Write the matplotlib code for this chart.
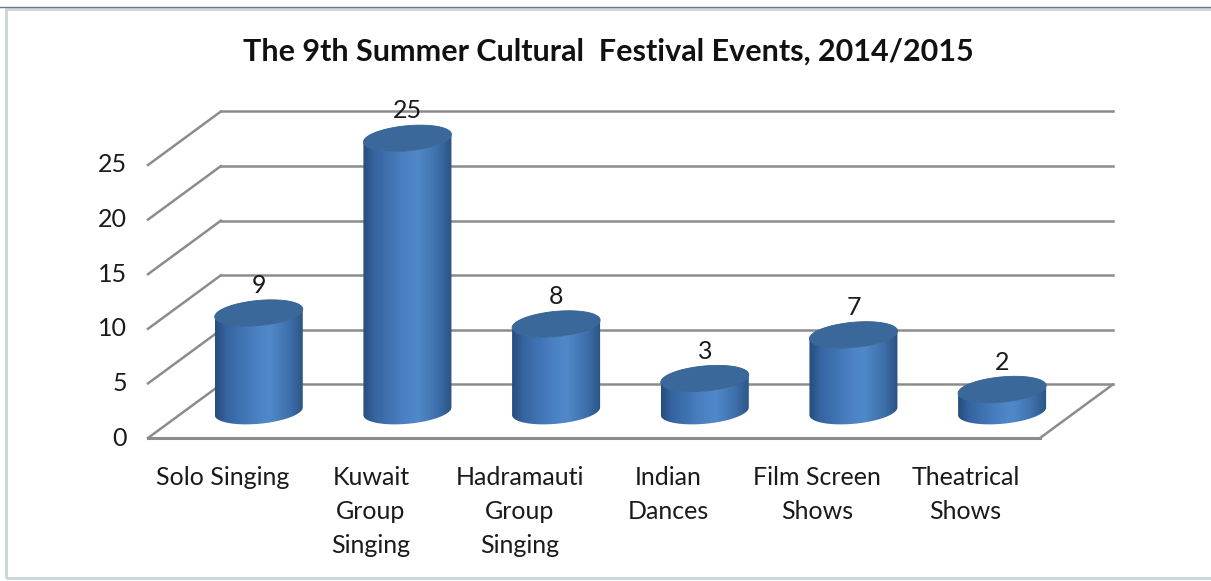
import numpy as np
import matplotlib
matplotlib.use('Agg')
import matplotlib.pyplot as plt
from matplotlib.patches import Polygon, Rectangle
from matplotlib.colors import LinearSegmentedColormap
from matplotlib.lines import Line2D

plt.rcParams['font.family'] = ['Lato', 'DejaVu Sans']

title = 'The 9th Summer Cultural  Festival Events, 2014/2015'
categories = ['Solo Singing', 'Kuwait\nGroup\nSinging', 'Hadramauti\nGroup\nSinging',
              'Indian\nDances', 'Film Screen\nShows', 'Theatrical\nShows']
values = [9, 25, 8, 3, 7, 2]
y_ticks = [0, 5, 10, 15, 20, 25]

# pseudo 3d geometry (data units: x = category slots, y = value)
DX, DY = 0.49, 4.9          # depth offset of the back wall
R = 0.296                   # cylinder radius (x units)
B = 1.15                    # ellipse half height (y units)
S = 0.35                    # tilt of the ellipses
grid_col = '#8c8c8c'
txt_col = '#1a1a1a'
fs = 18

fig = plt.figure(figsize=(12.11, 5.81), dpi=100)
ax = fig.add_axes([0, 0, 1, 1])
ax.axis('off')

n = len(categories)

# back wall grid + side wall diagonals
for v in y_ticks:
    ax.add_line(Line2D([DX, n + DX], [v + DY, v + DY], color=grid_col, lw=1.8, zorder=1))
    ax.add_line(Line2D([0, DX], [v, v + DY], color=grid_col, lw=1.8, zorder=1))
    ax.text(-0.14, v, str(v), ha='right', va='center', fontsize=fs, color=txt_col)

# floor
ax.add_line(Line2D([0, n], [0, 0], color=grid_col, lw=2.2, zorder=1))
ax.add_line(Line2D([n, n + DX], [0, DY], color=grid_col, lw=1.8, zorder=1))

cmap = LinearSegmentedColormap.from_list('cyl', [
    (0.0, '#264d7c'), (0.12, '#3564a0'), (0.45, '#4a80c2'), (0.62, '#5089c9'),
    (0.85, '#3d6ea9'), (1.0, '#2a5383')])
grad = np.linspace(0, 1, 200).reshape(1, -1)


def ellipse_pts(cx, cy, t):
    return np.column_stack([cx + R * np.cos(t), cy + B * np.sin(t) + S * np.cos(t)])


for i, v in enumerate(values):
    cx = i + 0.5 + DX / 2
    base = DY / 2
    top = base + v
    t_front = np.linspace(np.pi, 2 * np.pi, 80)
    body = np.vstack([ellipse_pts(cx, base, t_front), ellipse_pts(cx, top, t_front[::-1])])
    poly = Polygon(body, closed=True, facecolor='none', edgecolor='none', zorder=3)
    ax.add_patch(poly)
    im = ax.imshow(grad, cmap=cmap, aspect='auto', zorder=3,
                   extent=[cx - R, cx + R, base - B - S - 0.2, top + B + S + 0.2])
    im.set_clip_path(poly)
    t_all = np.linspace(0, 2 * np.pi, 160)
    ax.add_patch(Polygon(ellipse_pts(cx, top, t_all), closed=True,
                         facecolor='#3b689b', edgecolor='#35608f', lw=0.6, zorder=4))
    ax.text(cx, top + 2.5, str(v), ha='center', va='center', fontsize=fs, color=txt_col)

# category labels
for i, c in enumerate(categories):
    ax.text(i + 0.5, -2.55, c, ha='center', va='top', fontsize=fs,
            color=txt_col, linespacing=1.58)

ax.set_xlim(-148 / 148.67, (1211 - 148) / 148.67)
ax.set_ylim(-143 / 10.92, 438 / 10.92)

fig.text(0.502, 1 - 52 / 581, title, ha='center', va='center',
         fontsize=22, fontweight='bold', color='#111111')

# chart border
fig.add_artist(Rectangle((6 / 1211, 3 / 581), 1.2, 1 - 12 / 581, transform=fig.transFigure,
                         fill=False, edgecolor='#c8d7de', lw=2))
fig.add_artist(Line2D([0, 1], [1 - 7 / 581, 1 - 7 / 581], transform=fig.transFigure,
                      color='#6f7b80', lw=1))

fig.savefig('out.png', dpi=100)
